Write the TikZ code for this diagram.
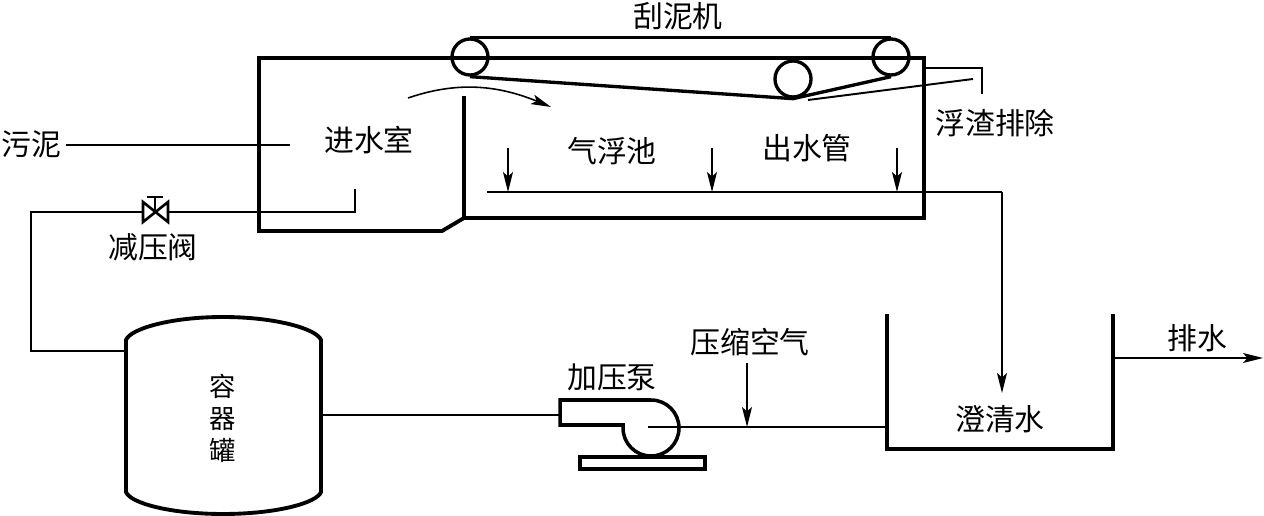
\documentclass[tikz,border=0pt]{standalone}
\usepackage{fontspec}
\setmainfont{Noto Sans CJK SC}
\usepackage{tikz}
\usetikzlibrary{arrows.meta,positioning}

\begin{document}
\begin{tikzpicture}[x=0.02cm, y=-0.02cm, >={Stealth[length=4mm, width=2mm, inset=0.9mm]},
	   lab/.style={inner sep=0pt, align=center, font=\fontsize{17}{19.5}\selectfont},
	   pipe/.style={draw, line width=1.1pt},
	   wall/.style={draw, line width=2.2pt, line join=miter},
	   roll/.style={draw, circle, line width=1.9pt, minimum size=0.72cm, inner sep=0pt}]
	  \useasboundingbox (0,0) rectangle (1264,516);
	  % flotation tank
	  \draw[wall] (259,58) -- (924,58) -- (924,218) -- (464,218) -- (442,231) -- (259,231) -- cycle;
	  \draw[wall] (464,96) -- (464,218);
	  % scraper
	  \node[roll] (rL) at (470,57) {};
	  \node[roll] (rM) at (793,79) {};
	  \node[roll] (rR) at (891,57) {};
	  \draw[line width=1.9pt] (rL.north) -- (rR.north);
	  \draw[line width=1.9pt] (rL.south) -- (rM.south) -- (rR.south);
	  \node[lab] (scraper) at (678,16) {刮泥机};
	  % scum trough
	  \coordinate (sA) at (808,100);
	  \coordinate (sB) at (973,79);
	  \coordinate (sC) at (924,68);
	  \coordinate (sD) at (982,68);
	  \coordinate (sE) at (982,94);
	  \draw[pipe] (sA) -- (sB);
	  \draw[wall, line width=1.6pt] (sC) -- (sD) -- (sE);
	  \node[lab] (scum) at (995,123) {浮渣排除};
	  % chamber labels
	  \node[lab] (inlet) at (369,140) {进水室};
	  \node[lab] (cell) at (612,151) {气浮池};
	  \node[lab] (outl) at (807,148) {出水管};
	  \coordinate (cA) at (408,98);
	  \coordinate (cB) at (551,107);
	  \draw[->, line width=0.9pt] (cA) .. controls (455,82) and (495,84) .. (cB);
	  % sludge feed
	  \node[lab] (sludge) at (31,144) {污泥};
	  \coordinate (fE) at (290,145);
	  \draw[pipe] (66,145) -- (fE);
	  % outlet pipe and collector arrows
	  \coordinate (oA) at (487,192);
	  \coordinate (oB) at (1002,192);
	  \node[lab] (clear) at (1000,419) {澄清水};
	  \coordinate (oC) at (1002,393);
	  \draw[pipe] (oA) -- (oB);
	  \draw[pipe, ->] (oB) -- (oC);
	  \foreach \xa in {508,712,897}
	    \draw[pipe, ->] (\xa,148) -- (\xa,192);
	  % clarifier
	  \draw[wall] (887,314) -- (887,449) -- (1113,449) -- (1113,314);
	  \coordinate (dA) at (1113,358);
	  \coordinate (dB) at (1263,358);
	  \draw[pipe, ->] (dA) -- (dB);
	  \node[lab] (drain) at (1197,338) {排水};
	  % vessel
	  \draw[wall] (126,492) -- (126,340) .. controls (130,329) and (170,317) .. (223,317)
	     .. controls (276,317) and (317,329) .. (321,340) -- (321,492)
	     .. controls (317,503) and (276,514) .. (223,514)
	     .. controls (170,514) and (130,503) .. (126,492) -- cycle;
	  \node[lab, font=\fontsize{15}{18.2}\selectfont] (vessel) at (223,418) {容\\器\\罐};
	  \coordinate (vL) at (126,351);
	  \coordinate (vR) at (321,415);
	  % reducing valve
	  \coordinate (kL) at (143,212);
	  \coordinate (kR) at (168,212);
	  \coordinate (kT) at (155,197);
	  \draw[line width=1.5pt] (143,202) -- (168,222) -- (168,202) -- (143,222) -- cycle;
	  \draw[line width=1.3pt] (155,212) -- (kT) (147,197) -- (163,197);
	  \node[lab, below=12pt of kL, xshift=0.2cm] (valve) {减压阀};
	  \coordinate (bA) at (31,212);
	  \coordinate (bB) at (31,351);
	  \coordinate (iA) at (355,212);
	  \coordinate (iB) at (355,189);
	  \draw[pipe] (vL) -- (bB) -- (bA) -- (kL);
	  \draw[pipe] (kR) -- (iA) -- (iB);
	  % pump
	  \draw[wall, line width=2pt] (560,400) -- (651,400) arc[start angle=-90, end angle=180, radius=28] -- (623,425) -- (560,425) -- cycle;
	  \draw[line width=1.9pt] (580,457) rectangle (705,469);
	  \node[lab] (pump) at (612,377) {加压泵};
	  \coordinate (pL) at (560,415);
	  \coordinate (pC) at (648,427);
	  \coordinate (pR) at (887,427);
	  \draw[pipe] (vR) -- (pL);
	  \draw[pipe] (pC) -- (pR);
	  % compressed air
	  \node[lab] (air) at (750,342) {压缩空气};
	  \coordinate (aA) at (747,363);
	  \coordinate (aB) at (747,427);
	  \draw[pipe, ->] (aA) -- (aB);
	\end{tikzpicture}
\end{document}
